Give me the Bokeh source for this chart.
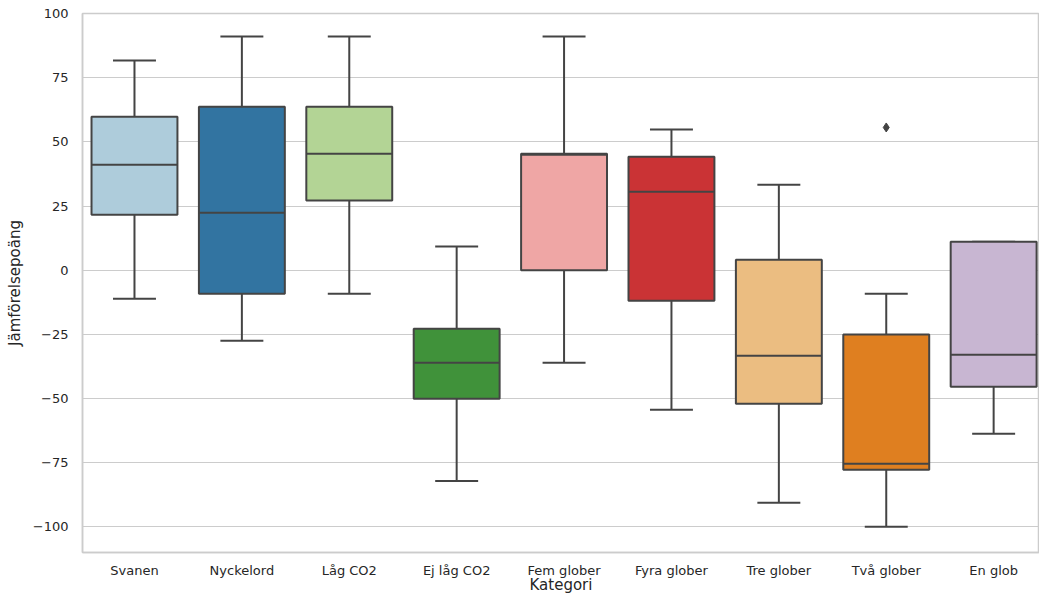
import colorsys
from bokeh.plotting import figure
from bokeh.models import Range1d, FixedTicker, ColumnDataSource
from bokeh.embed import file_html
from bokeh.resources import INLINE

categories = ["Svanen", "Nyckelord", "Låg CO2", "Ej låg CO2", "Fem glober",
              "Fyra glober", "Tre glober", "Två glober", "En glob"]
whisker_low = [-11.1, -27.5, -9.2, -82.1, -36.1, -54.4, -90.6, -100.0, -63.7]
q1 = [21.6, -9.2, 27.1, -50.1, 0.0, -11.9, -52.0, -77.8, -45.4]
median = [41.1, 22.4, 45.4, -36.1, 45.0, 30.6, -33.3, -75.4, -33.0]
q3 = [59.8, 63.7, 63.7, -22.8, 45.4, 44.2, 4.1, -25.1, 11.1]
whisker_high = [81.7, 91.0, 91.0, 9.2, 91.0, 54.8, 33.3, -9.2, 11.1]
outlier_cat = [7]
outlier_val = [55.6]
y_ticks = [-100, -75, -50, -25, 0, 25, 50, 75, 100]

base_palette = ["#a6cee3", "#1f78b4", "#b2df8a", "#33a02c", "#fb9a99",
                "#e31a1c", "#fdbf6f", "#ff7f00", "#cab2d6"]


def desaturate(hexcol, prop=0.75):
    r, g, b = (int(hexcol[i:i + 2], 16) / 255 for i in (1, 3, 5))
    h, l, s = colorsys.rgb_to_hls(r, g, b)
    r, g, b = colorsys.hls_to_rgb(h, l, s * prop)
    return "#%02x%02x%02x" % (round(r * 255), round(g * 255), round(b * 255))


colors = [desaturate(c) for c in base_palette]
edge = "#444444"
text_col = "#262626"
grid_col = "#cccccc"

x = list(range(len(categories)))
box_w = 0.8
cap_w = 0.4

src = ColumnDataSource(dict(
    x=x, lo=whisker_low, q1=q1, med=median, q3=q3, hi=whisker_high, color=colors,
    x0=[i - box_w / 2 for i in x], x1=[i + box_w / 2 for i in x],
    c0=[i - cap_w / 2 for i in x], c1=[i + cap_w / 2 for i in x],
))

p = figure(width=1039, height=596, output_backend="svg", toolbar_location=None,
           x_range=Range1d(-0.484, 8.427), y_range=Range1d(-110, 100),
           min_border_top=13, min_border_left=82, min_border_right=0, min_border_bottom=0)

p.background_fill_color = "white"
p.outline_line_color = grid_col
p.outline_line_width = 1.5

# whiskers
p.segment(x0="x", y0="q3", x1="x", y1="hi", source=src, line_color=edge, line_width=2)
p.segment(x0="x", y0="q1", x1="x", y1="lo", source=src, line_color=edge, line_width=2)
# caps
p.segment(x0="c0", y0="hi", x1="c1", y1="hi", source=src, line_color=edge, line_width=2)
p.segment(x0="c0", y0="lo", x1="c1", y1="lo", source=src, line_color=edge, line_width=2)
# boxes
p.vbar(x="x", bottom="q1", top="q3", width=box_w, source=src, fill_color="color",
       line_color=edge, line_width=2)
# medians
p.segment(x0="x0", y0="med", x1="x1", y1="med", source=src, line_color=edge, line_width=2)
# outliers
p.scatter(x=outlier_cat, y=outlier_val, marker="diamond", size=9, color=edge)

p.xgrid.visible = False
p.ygrid.grid_line_color = grid_col
p.ygrid.grid_line_width = 1

p.xaxis.ticker = FixedTicker(ticks=x)
p.xaxis.major_label_overrides = {i: c for i, c in zip(x, categories)}
p.yaxis.ticker = FixedTicker(ticks=y_ticks)
p.yaxis.major_label_overrides = {t: (str(t).replace("-", "\u2212")) for t in y_ticks}

for ax in (p.xaxis[0], p.yaxis[0]):
    ax.major_tick_line_color = None
    ax.minor_tick_line_color = None
    ax.axis_line_color = grid_col
    ax.axis_line_width = 1.5
    ax.major_label_text_font = "DejaVu Sans"
    ax.major_label_text_font_size = "13px"
    ax.major_label_text_color = text_col
    ax.axis_label_text_font = "DejaVu Sans"
    ax.axis_label_text_font_size = "15px"
    ax.axis_label_text_font_style = "normal"
    ax.axis_label_text_color = text_col

p.xaxis.axis_label = "Kategori"
p.yaxis.axis_label = "Jämförelsepoäng"
p.xaxis.major_label_standoff = 4
p.xaxis.axis_label_standoff = -5
p.yaxis.major_label_standoff = 8
p.yaxis.axis_label_standoff = 6

open("out.html", "w").write(file_html(p, INLINE))
